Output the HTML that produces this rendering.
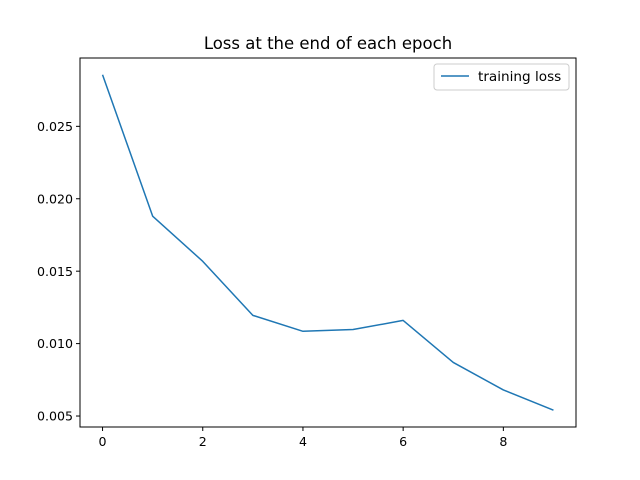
<!DOCTYPE html>
<html><head><meta charset="utf-8"><style>
body{margin:0;background:#fff;}
svg{display:block;font-family:"DejaVu Sans","Liberation Sans",sans-serif;}
</style></head><body>
<svg id="chart" width="640" height="480" viewBox="0 0 640 480">
<rect width="640" height="480" fill="#fff"/>
<text x="328" y="49" font-size="16.5" text-anchor="middle">Loss at the end of each epoch</text>
<g id="plot"></g>
<rect x="80" y="58" width="496" height="369" fill="none" stroke="#000" stroke-width="1"/>
<g>
<rect x="434" y="64" width="135" height="26" rx="3" fill="#fff" stroke="#ccc"/>
<line x1="441" y1="76" x2="469" y2="76" stroke="#1f77b4" stroke-width="1.5"/>
<text x="478" y="81" font-size="13.6">training loss</text>
</g>
</svg>
<script>
const epochs=[0,1,2,3,4,5,6,7,8,9];
const losses=[0.02856,0.01880,0.01568,0.01195,0.01085,0.01097,0.01160,0.00870,0.00680,0.00540];
const xTicks=[0,2,4,6,8];
const yTicks=[0.005,0.010,0.015,0.020,0.025];
const L=80,R=576,T=58,B=427;
const xmin=Math.min(...epochs),xmax=Math.max(...epochs),xm=(xmax-xmin)*0.05;
const ymin=Math.min(...losses),ymax=Math.max(...losses),ym=(ymax-ymin)*0.05;
const xs=v=>L+(v-(xmin-xm))/((xmax+xm)-(xmin-xm))*(R-L);
const ys=v=>B-(v-(ymin-ym))/((ymax+ym)-(ymin-ym))*(B-T);
const NS="http://www.w3.org/2000/svg";
const g=document.getElementById('plot');
function mk(t,a){const e=document.createElementNS(NS,t);for(const k in a)e.setAttribute(k,a[k]);g.appendChild(e);return e;}
xTicks.forEach(v=>{
 const l=mk('line',{x1:xs(v),x2:xs(v),y1:B,y2:B+4,stroke:'#000'});
 
 
 const t=mk('text',{x:xs(v),y:B+19,'font-size':12.6,'text-anchor':'middle'});
 t.textContent=v;
 
 
});
yTicks.forEach(v=>{
 const l=mk('line',{x1:L-4,x2:L,y1:ys(v),y2:ys(v),stroke:'#000'});
 
 
 const t=mk('text',{x:L-7,y:ys(v)+4.6,'font-size':12.6,'text-anchor':'end'});
 t.textContent=v.toFixed(3);
 
 
});
const p=mk('polyline',{points:epochs.map((e,i)=>xs(e)+','+ys(losses[i])).join(' '),fill:'none',stroke:'#1f77b4','stroke-width':1.5,'stroke-linejoin':'round'});


</script>
</body></html>
